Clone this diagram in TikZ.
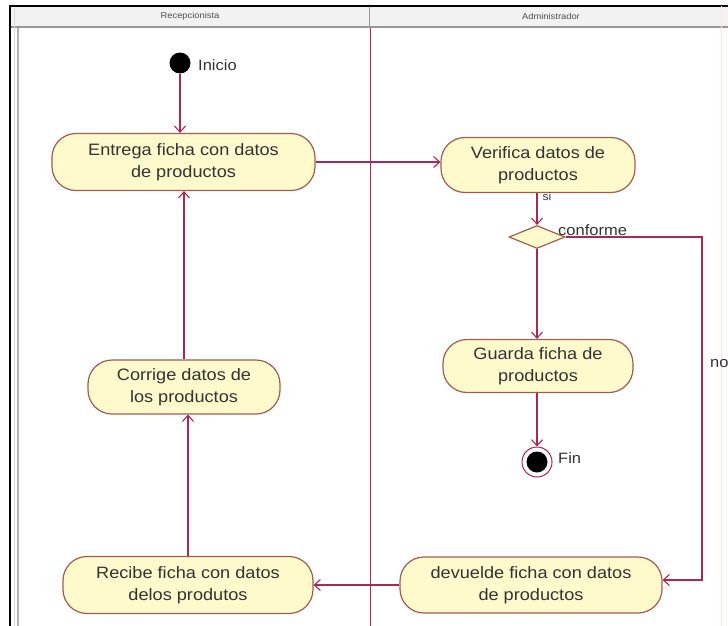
\documentclass[tikz,border=0pt]{standalone}
\usepackage{fontspec}
\setmainfont{Liberation Sans}[FakeStretch=1.1]
\usetikzlibrary{arrows.meta,shapes.geometric,calc}
\definecolor{actfill}{RGB}{254,250,204}
\definecolor{actdraw}{RGB}{160,92,80}
\definecolor{flow}{RGB}{168,40,80}
\definecolor{lanegray}{RGB}{150,150,150}
\begin{document}
\begin{tikzpicture}[x=1pt,y=-1pt,
  activity/.style={draw=actdraw, fill=actfill, line width=1.2pt, rounded corners=24pt,
    align=center, font=\fontsize{16.5}{22}\selectfont, text=black!80, inner sep=0pt},
  flowline/.style={draw=flow, line width=1.1pt},
  flowarrow/.style={flowline, -{Straight Barb[length=6pt,width=11pt]}},
  lbl/.style={font=\fontsize{15}{18}\selectfont, text=black!80, inner sep=0pt},
  lanehead/.style={font=\fontsize{8.5}{10}\selectfont, text=black!70}
]
\useasboundingbox (0,0) rectangle (728,626);
\fill[white] (0,0) rectangle (728,626);
% swimlane frame and headers
\fill[gray!10] (10,6) rectangle (728,27);
\draw[lanegray, line width=2pt] (10,27) -- (728,27);
\draw[gray!60, line width=1.5pt] (18,28) -- (18,626);
\draw[gray!30, line width=1pt] (14,8) -- (14,626);
\draw[black, line width=2pt] (10,626) -- (10,6) -- (728,6);
\draw[lanegray, line width=0.8pt] (369,7) -- (369,27);
\draw[flow, line width=0.8pt] (370,28) -- (370,626);
\draw[pink!40, line width=1pt] (721,6) -- (721,626);
\node[lanehead] (h1) at (190,16) {Recepcionista};
\node[lanehead] (h2) at (551,16) {Administrador};

% start
\node[circle, fill=black, minimum size=21pt, inner sep=0pt] (ini) at (180,63) {};
\node[lbl, anchor=west] (iniL) at (198,65) {Inicio};

% activities
\node[activity, minimum width=263pt, minimum height=57pt] (entrega) at (183.5,162) {Entrega ficha con datos\\de productos};
\node[activity, minimum width=194pt, minimum height=55pt] (verifica) at (538,165) {Verifica datos de\\productos};
\node[lbl, font=\fontsize{11}{13}\selectfont] (si) at (547,197) {si};
\node[diamond, draw=actdraw, fill=actfill, line width=1.2pt, minimum width=56pt,
      minimum height=23pt, inner sep=0pt, aspect=2.4] (dec) at (537,237) {};
\node[lbl, anchor=south west] (conf) at (558,236) {conforme};
\node[activity, minimum width=190pt, minimum height=53pt] (guarda) at (538,366) {Guarda ficha de\\productos};
\node[circle, draw=flow, line width=1pt, minimum size=30pt, inner sep=0pt] (fin) at (537,462) {};
\node[circle, fill=black, minimum size=21pt, inner sep=0pt] (finDot) at (fin) {};
\node[lbl, anchor=west] (finL) at (558,458) {Fin};
\node[activity, minimum width=262pt, minimum height=56pt] (devuelde) at (531,585) {devuelde ficha con datos\\de productos};
\node[activity, minimum width=250pt, minimum height=57pt] (recibe) at (188,585) {Recibe ficha con datos\\delos produtos};
\node[activity, minimum width=192pt, minimum height=54pt] (corrige) at (184,387) {Corrige datos de\\los productos};
\node[lbl, anchor=west] (noL) at (710,364) {no};
\coordinate (c2) at (702,580);

% control flows
\draw[flowarrow] (ini) -- (ini |- entrega.north);
\draw[flowarrow] (entrega.east) -- (entrega.east -| verifica.west);
\draw[flowarrow] (dec |- verifica.south) -- (dec.north);
\draw[flowarrow] (dec.south) -- (dec |- guarda.north);
\draw[flowarrow] (dec |- guarda.south) -- (fin.north);
\draw[flowarrow] (dec.east) -| (c2) -- (c2 -| devuelde.east);
\draw[flowarrow] (devuelde.west) -- (recibe.east);
\draw[flowarrow] (recibe.north) -- (recibe.north |- corrige.south);
\draw[flowarrow] (corrige.north) -- (corrige.north |- entrega.south);
\end{tikzpicture}
\end{document}
